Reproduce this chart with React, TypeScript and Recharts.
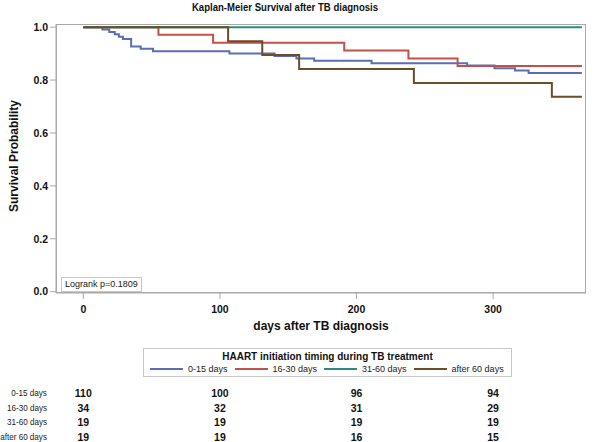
import React from "react";
import { LineChart, Line, XAxis, YAxis } from "recharts";

// Kaplan-Meier step points (day, survival)
const groupNames = ["0-15 days", "16-30 days", "31-60 days", "after 60 days"];
const groupColors = ["#5b6db5", "#c5504a", "#2a8c80", "#6b4e28"];

const daysEarly = [0, 14, 19, 23, 26, 29, 35, 42, 51, 107, 140, 156, 169, 211, 281, 301, 316, 326, 365];
const survEarly = [1, 0.991, 0.982, 0.973, 0.964, 0.955, 0.927, 0.918, 0.909, 0.9, 0.891, 0.882, 0.873, 0.864, 0.855, 0.845, 0.836, 0.827, 0.827];

const daysMid = [0, 55, 95, 191, 238, 274, 365];
const survMid = [1, 0.971, 0.941, 0.912, 0.882, 0.853, 0.853];

const daysLate = [0, 365];
const survLate = [1, 1];

const daysAfter = [0, 106, 131, 158, 242, 343, 365];
const survAfter = [1, 0.947, 0.895, 0.842, 0.789, 0.737, 0.737];

// number at risk under each x tick
const xTicks = [0, 100, 200, 300];
const riskEarly = [110, 100, 96, 94];
const riskMid = [34, 32, 31, 29];
const riskLate = [19, 19, 19, 19];
const riskAfter = [19, 19, 16, 15];

const yTicks = [0, 0.2, 0.4, 0.6, 0.8, 1.0];

const toPoints = (days: number[], surv: number[]) => days.map((d, i) => ({ day: d, s: surv[i] }));

const series = [
  toPoints(daysEarly, survEarly),
  toPoints(daysMid, survMid),
  toPoints(daysLate, survLate),
  toPoints(daysAfter, survAfter),
];
const riskRows = [riskEarly, riskMid, riskLate, riskAfter];

const FONT = '"Liberation Sans", Arial, sans-serif';
const FRAME = "#a9a9a9";

const RISK_TOP = 397;
const RISK_STEP = 14.6;

function XTickWithRisk(props: any) {
  const { x, y, payload } = props;
  const idx = xTicks.indexOf(payload.value);
  return (
    <g>
      <text x={x} y={y + 12} textAnchor="middle" fontFamily={FONT} fontWeight="bold" fontSize={10.5} fill="#111">
        {payload.value}
      </text>
      {riskRows.map((row, r) => (
        <text key={r} x={x} y={RISK_TOP + r * RISK_STEP} textAnchor="middle" fontFamily={FONT} fontWeight="bold" fontSize={10.5} fill="#111">
          {row[idx]}
        </text>
      ))}
    </g>
  );
}

export default function App() {
  return (
    <div style={{ position: "absolute", left: 0, top: 0, width: 600, height: 442, background: "#fff", fontFamily: FONT }}>
      <LineChart width={600} height={442} margin={{ top: 24, right: 14, bottom: 119, left: 0 }}>
        <XAxis
          dataKey="day"
          type="number"
          domain={[-20, 368]}
          ticks={xTicks}
          allowDataOverflow
          height={30}
          stroke={FRAME}
          tickSize={6}
          tick={<XTickWithRisk />}
        />
        <YAxis
          type="number"
          domain={[-0.005, 1.012]}
          ticks={yTicks}
          allowDataOverflow
          width={56}
          stroke={FRAME}
          tickSize={6}
          tickFormatter={(v: number) => v.toFixed(1)}
          tick={{ fill: "#111", fontSize: 10.5, fontWeight: "bold", fontFamily: FONT }}
        />
        {series.map((pts, i) => (
          <Line
            key={groupNames[i]}
            data={pts}
            dataKey="s"
            name={groupNames[i]}
            type="stepAfter"
            stroke={groupColors[i]}
            strokeWidth={2}
            dot={false}
            activeDot={false}
            isAnimationActive={false}
          />
        ))}
      </LineChart>

      {/* plot frame */}
      <div
        style={{
          position: "absolute",
          left: 56,
          top: 24,
          width: 530,
          height: 269,
          border: `1px solid ${FRAME}`,
          boxSizing: "border-box",
          pointerEvents: "none",
        }}
      />

      {/* title */}
      <div
        style={{
          position: "absolute",
          left: 0,
          width: 570,
          top: 1,
          textAlign: "center",
          fontSize: 11,
          fontWeight: "bold",
          color: "#111",
          transform: "scaleX(0.87)",
        }}
      >
        Kaplan-Meier Survival after TB diagnosis
      </div>

      {/* y label */}
      <div
        style={{
          position: "absolute",
          left: 14,
          top: 156,
          transform: "translate(-50%, -50%) rotate(-90deg)",
          whiteSpace: "nowrap",
          fontSize: 12,
          fontWeight: "bold",
          color: "#111",
        }}
      >
        Survival Probability
      </div>

      {/* x label */}
      <div style={{ position: "absolute", left: 56, width: 530, top: 319, textAlign: "center", fontSize: 12, fontWeight: "bold", color: "#111" }}>
        days after TB diagnosis
      </div>

      {/* logrank box */}
      <div
        style={{
          position: "absolute",
          left: 61,
          top: 277,
          height: 13,
          padding: "0 3px",
          border: "1px solid #c8c8c8",
          fontSize: 9,
          lineHeight: "13px",
          color: "#222",
          whiteSpace: "nowrap",
        }}
      >
        Logrank p=0.1809
      </div>

      {/* legend */}
      <div
        style={{
          position: "absolute",
          left: 143,
          top: 348,
          width: 369,
          height: 29,
          border: "1px solid #c8c8c8",
          boxSizing: "border-box",
        }}
      >
        <div style={{ textAlign: "center", fontSize: 10, fontWeight: "bold", color: "#111", marginTop: 2, lineHeight: "12px" }}>
          HAART initiation timing during TB treatment
        </div>
        <div style={{ display: "flex", alignItems: "center", fontSize: 9, color: "#222", lineHeight: "12px", whiteSpace: "nowrap", marginLeft: 6 }}>
          {groupNames.map((n, i) => (
            <div key={n} style={{ display: "flex", alignItems: "center", marginRight: 7 }}>
              <div style={{ width: 33, height: 2, background: groupColors[i], marginRight: 5 }} />
              <span>{n}</span>
            </div>
          ))}
        </div>
      </div>

      {/* at-risk row labels */}
      {groupNames.map((n, r) => (
        <div
          key={n}
          style={{
            position: "absolute",
            right: 600 - 47,
            top: RISK_TOP - 10 + r * RISK_STEP,
            fontSize: 9.5,
            lineHeight: "12px",
            color: "#222",
            whiteSpace: "nowrap",
            transform: "scaleX(0.85)",
            transformOrigin: "right center",
          }}
        >
          {n}
        </div>
      ))}
    </div>
  );
}
